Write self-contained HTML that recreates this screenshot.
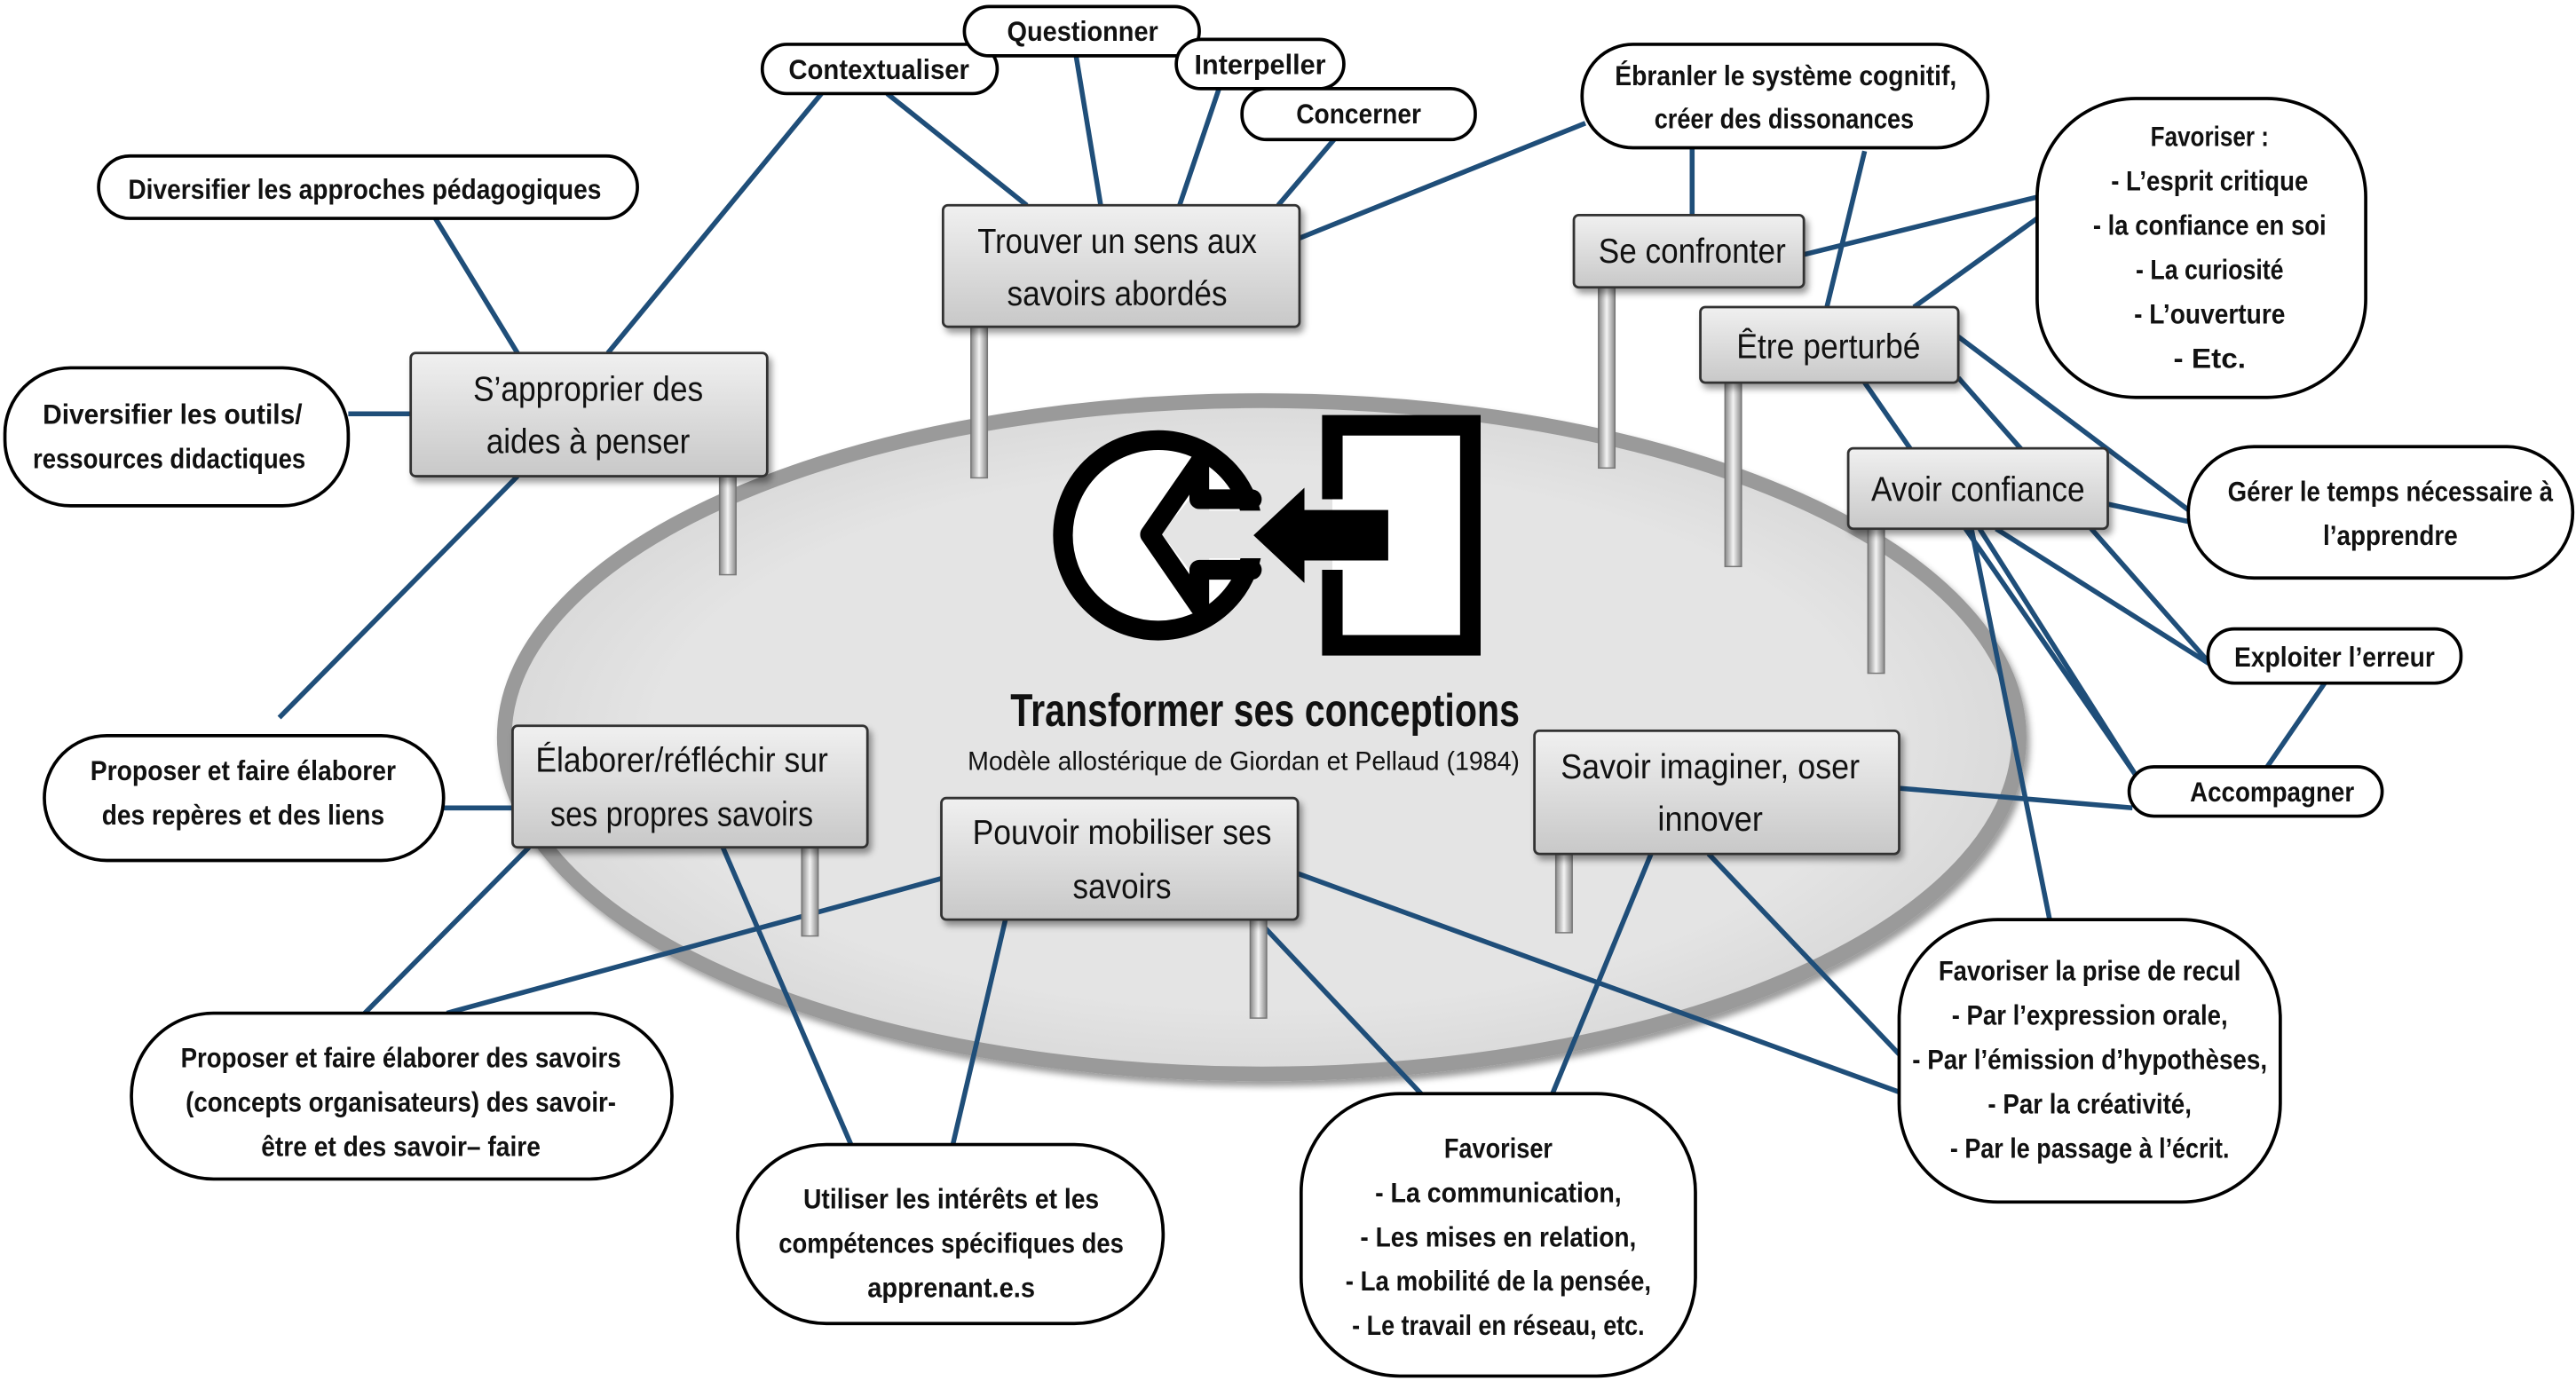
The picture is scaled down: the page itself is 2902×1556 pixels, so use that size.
<!DOCTYPE html>
<html><head><meta charset="utf-8"><style>
html,body{margin:0;padding:0;background:#fff;}
svg{display:block;}
text{font-family:"Liberation Sans",sans-serif;font-weight:bold;fill:#111;}
.t{font-size:17px;}
.b{font-size:21px;font-weight:normal;}
</style></head><body>
<svg width="2902" height="1556" viewBox="0 0 1568 841" preserveAspectRatio="none" xmlns="http://www.w3.org/2000/svg">
<defs>
<linearGradient id="g" x1="0" y1="0" x2="0" y2="1"><stop offset="0" stop-color="#f0f0f0"/><stop offset="1" stop-color="#c8c8c8"/></linearGradient>
<linearGradient id="p" x1="0" y1="0" x2="1" y2="0"><stop offset="0" stop-color="#888"/><stop offset="0.5" stop-color="#f4f4f4"/><stop offset="1" stop-color="#888"/></linearGradient>
<radialGradient id="e" cx="0.5" cy="0.5" r="0.5"><stop offset="0.8" stop-color="#e4e4e4"/><stop offset="1" stop-color="#dadada"/></radialGradient>
<filter id="s" x="-10%" y="-10%" width="130%" height="140%"><feDropShadow dx="2" dy="3" stdDeviation="2" flood-opacity="0.4"/></filter>
</defs>
<ellipse cx="768" cy="449" rx="461" ry="205" fill="url(#e)" stroke="#9a9a9a" stroke-width="9" filter="url(#s)"/>
<g stroke="#1f4e79" stroke-width="3" fill="none">
<line x1="500" y1="57" x2="370" y2="215"/>
<line x1="540" y1="57" x2="625" y2="125"/>
<line x1="655" y1="34" x2="670" y2="125"/>
<line x1="742" y1="54" x2="718" y2="125"/>
<line x1="812" y1="85" x2="778" y2="125"/>
<line x1="791" y1="145" x2="965" y2="75"/>
<line x1="265" y1="133" x2="315" y2="215"/>
<line x1="212" y1="252" x2="250" y2="252"/>
<line x1="315" y1="290" x2="170" y2="437"/>
<line x1="270" y1="492" x2="312" y2="492"/>
<line x1="322" y1="516" x2="222" y2="617"/>
<line x1="440" y1="516" x2="518" y2="697"/>
<line x1="573" y1="535" x2="272" y2="617"/>
<line x1="612" y1="560" x2="580" y2="697"/>
<line x1="770" y1="565" x2="865" y2="666"/>
<line x1="790" y1="532" x2="1156" y2="665"/>
<line x1="1005" y1="520" x2="945" y2="666"/>
<line x1="1040" y1="520" x2="1156" y2="642"/>
<line x1="1156" y1="480" x2="1298" y2="492"/>
<line x1="1030" y1="90" x2="1030" y2="131"/>
<line x1="1135" y1="92" x2="1112" y2="187"/>
<line x1="1098" y1="155" x2="1240" y2="120"/>
<line x1="1165" y1="187" x2="1240" y2="133"/>
<line x1="1192" y1="205" x2="1334" y2="312"/>
<line x1="1192" y1="230" x2="1346" y2="405"/>
<line x1="1135" y1="233" x2="1300" y2="472"/>
<line x1="1283" y1="307" x2="1334" y2="318"/>
<line x1="1215" y1="322" x2="1346" y2="405"/>
<line x1="1205" y1="322" x2="1300" y2="472"/>
<line x1="1200" y1="322" x2="1248" y2="562"/>
<line x1="1415" y1="416" x2="1380" y2="467"/>
</g>
<g fill="url(#p)" stroke="#777" stroke-width="0.8">
<rect x="591" y="199" width="10" height="92"/>
<rect x="438" y="290" width="10" height="60"/>
<rect x="973" y="175" width="10" height="110"/>
<rect x="1050" y="233" width="10" height="112"/>
<rect x="1137" y="322" width="10" height="88"/>
<rect x="488" y="516" width="10" height="54"/>
<rect x="761" y="560" width="10" height="60"/>
<rect x="947" y="520" width="10" height="48"/>
</g>
<!-- icon -->
<g>
<circle cx="705" cy="326" r="58" fill="#fff" stroke="#000" stroke-width="12"/>
<polygon points="707,325 724,304 736,304 736,311 780,311 780,340 736,340 736,347 724,347" fill="#e4e4e4"/>
<polyline points="730,282 700,325.5 730,369" fill="none" stroke="#000" stroke-width="12" stroke-linejoin="round" stroke-linecap="round"/>
<path d="M730 282 V304 H762 M730 369 V347 H762" fill="none" stroke="#000" stroke-width="12" stroke-linecap="round" stroke-linejoin="round"/>
<rect x="811" y="259" width="84" height="134" fill="#fff"/>
<polygon points="763,326 794,297 794,310.6 845,310.6 845,341.3 794,341.3 794,355" fill="#000"/>
<path d="M811 304 V259 H895 V393 H811 V347" fill="none" stroke="#000" stroke-width="12.5"/>
</g>
<text x="770" y="442" text-anchor="middle" font-size="28" textLength="310" lengthAdjust="spacingAndGlyphs">Transformer ses conceptions</text>
<text x="757" y="469" text-anchor="middle" font-size="16" style="font-weight:normal" textLength="336" lengthAdjust="spacingAndGlyphs">Modèle allostérique de Giordan et Pellaud (1984)</text>
<g fill="url(#g)" stroke="#333" stroke-width="1.5" filter="url(#s)">
<rect x="574" y="125" width="217" height="74" rx="3"/>
<rect x="250" y="215" width="217" height="75" rx="3"/>
<rect x="958" y="131" width="140" height="44" rx="3"/>
<rect x="1035" y="187" width="157" height="46" rx="3"/>
<rect x="1125" y="273" width="158" height="49" rx="3"/>
<rect x="312" y="442" width="216" height="74" rx="3"/>
<rect x="573" y="486" width="217" height="74" rx="3"/>
<rect x="934" y="445" width="222" height="75" rx="3"/>
</g>
<g class="b" text-anchor="middle">
<text class="b" x="680" y="154" textLength="170" lengthAdjust="spacingAndGlyphs">Trouver un sens aux</text>
<text class="b" x="680" y="186" textLength="134" lengthAdjust="spacingAndGlyphs">savoirs abordés</text>
<text class="b" x="358" y="244" textLength="140" lengthAdjust="spacingAndGlyphs">S’approprier des</text>
<text class="b" x="358" y="276" textLength="124" lengthAdjust="spacingAndGlyphs">aides à penser</text>
<text class="b" x="1030" y="160" textLength="114" lengthAdjust="spacingAndGlyphs">Se confronter</text>
<text class="b" x="1113" y="218" textLength="112" lengthAdjust="spacingAndGlyphs">Être perturbé</text>
<text class="b" x="1204" y="305" textLength="130" lengthAdjust="spacingAndGlyphs">Avoir confiance</text>
<text class="b" x="415" y="470" textLength="178" lengthAdjust="spacingAndGlyphs">Élaborer/réfléchir sur</text>
<text class="b" x="415" y="503" textLength="160" lengthAdjust="spacingAndGlyphs">ses propres savoirs</text>
<text class="b" x="683" y="514" textLength="182" lengthAdjust="spacingAndGlyphs">Pouvoir mobiliser ses</text>
<text class="b" x="683" y="547" textLength="60" lengthAdjust="spacingAndGlyphs">savoirs</text>
<text class="b" x="1041" y="474" textLength="182" lengthAdjust="spacingAndGlyphs">Savoir imaginer, oser</text>
<text class="b" x="1041" y="506" textLength="64" lengthAdjust="spacingAndGlyphs">innover</text>
</g>
<g fill="#fff" stroke="#000" stroke-width="2">
<rect x="464" y="27" width="143" height="30" rx="15"/>
<rect x="587" y="4" width="143" height="30" rx="15"/>
<rect x="716" y="24" width="102" height="30" rx="15"/>
<rect x="756" y="54" width="142" height="31" rx="15"/>
<rect x="60" y="95" width="328" height="38" rx="19"/>
<rect x="3" y="224" width="209" height="84" rx="40"/>
<rect x="27" y="448" width="243" height="76" rx="38"/>
<rect x="963" y="27" width="247" height="63" rx="31"/>
<rect x="1240" y="60" width="200" height="182" rx="60"/>
<rect x="1332" y="272" width="234" height="80" rx="40"/>
<rect x="1344" y="383" width="154" height="33" rx="16"/>
<rect x="1296" y="467" width="154" height="30" rx="15"/>
<rect x="1156" y="560" width="232" height="172" rx="60"/>
<rect x="792" y="666" width="240" height="172" rx="60"/>
<rect x="449" y="697" width="259" height="109" rx="54"/>
<rect x="80" y="617" width="329" height="101" rx="50"/>
</g>
<g text-anchor="middle" class="t">
<text class="t" x="535" y="48" textLength="110" lengthAdjust="spacingAndGlyphs">Contextualiser</text>
<text class="t" x="659" y="25" textLength="92" lengthAdjust="spacingAndGlyphs">Questionner</text>
<text class="t" x="767" y="45" textLength="80" lengthAdjust="spacingAndGlyphs">Interpeller</text>
<text class="t" x="827" y="75" textLength="76" lengthAdjust="spacingAndGlyphs">Concerner</text>
<text class="t" x="222" y="121" textLength="288" lengthAdjust="spacingAndGlyphs">Diversifier les approches pédagogiques</text>
<text class="t" x="105" y="258" textLength="158" lengthAdjust="spacingAndGlyphs">Diversifier les outils/</text>
<text class="t" x="103" y="285" textLength="166" lengthAdjust="spacingAndGlyphs">ressources didactiques</text>
<text class="t" x="148" y="475" textLength="186" lengthAdjust="spacingAndGlyphs">Proposer et faire élaborer</text>
<text class="t" x="148" y="502" textLength="172" lengthAdjust="spacingAndGlyphs">des repères et des liens</text>
<text class="t" x="1087" y="52" textLength="208" lengthAdjust="spacingAndGlyphs">Ébranler le système cognitif,</text>
<text class="t" x="1086" y="78" textLength="158" lengthAdjust="spacingAndGlyphs">créer des dissonances</text>
<text class="t" x="1345" y="89" textLength="72" lengthAdjust="spacingAndGlyphs">Favoriser :</text>
<text class="t" x="1345" y="116" textLength="120" lengthAdjust="spacingAndGlyphs">- L’esprit critique</text>
<text class="t" x="1345" y="143" textLength="142" lengthAdjust="spacingAndGlyphs">- la confiance en soi</text>
<text class="t" x="1345" y="170" textLength="90" lengthAdjust="spacingAndGlyphs">- La curiosité</text>
<text class="t" x="1345" y="197" textLength="92" lengthAdjust="spacingAndGlyphs">- L’ouverture</text>
<text class="t" x="1345" y="224" textLength="44" lengthAdjust="spacingAndGlyphs">- Etc.</text>
<text class="t" x="1455" y="305" textLength="198" lengthAdjust="spacingAndGlyphs">Gérer le temps nécessaire à</text>
<text class="t" x="1455" y="332" textLength="82" lengthAdjust="spacingAndGlyphs">l’apprendre</text>
<text class="t" x="1421" y="406" textLength="122" lengthAdjust="spacingAndGlyphs">Exploiter l’erreur</text>
<text class="t" x="1383" y="488" textLength="100" lengthAdjust="spacingAndGlyphs">Accompagner</text>
<text class="t" x="1272" y="597" textLength="184" lengthAdjust="spacingAndGlyphs">Favoriser la prise de recul</text>
<text class="t" x="1272" y="624" textLength="168" lengthAdjust="spacingAndGlyphs">- Par l’expression orale,</text>
<text class="t" x="1272" y="651" textLength="216" lengthAdjust="spacingAndGlyphs">- Par l’émission d’hypothèses,</text>
<text class="t" x="1272" y="678" textLength="124" lengthAdjust="spacingAndGlyphs">- Par la créativité,</text>
<text class="t" x="1272" y="705" textLength="170" lengthAdjust="spacingAndGlyphs">- Par le passage à l’écrit.</text>
<text class="t" x="912" y="705" textLength="66" lengthAdjust="spacingAndGlyphs">Favoriser</text>
<text class="t" x="912" y="732" textLength="150" lengthAdjust="spacingAndGlyphs">- La communication,</text>
<text class="t" x="912" y="759" textLength="168" lengthAdjust="spacingAndGlyphs">- Les mises en relation,</text>
<text class="t" x="912" y="786" textLength="186" lengthAdjust="spacingAndGlyphs">- La mobilité de la pensée,</text>
<text class="t" x="912" y="813" textLength="178" lengthAdjust="spacingAndGlyphs">- Le travail en réseau, etc.</text>
<text class="t" x="579" y="736" textLength="180" lengthAdjust="spacingAndGlyphs">Utiliser les intérêts et les</text>
<text class="t" x="579" y="763" textLength="210" lengthAdjust="spacingAndGlyphs">compétences spécifiques des</text>
<text class="t" x="579" y="790" textLength="102" lengthAdjust="spacingAndGlyphs">apprenant.e.s</text>
<text class="t" x="244" y="650" textLength="268" lengthAdjust="spacingAndGlyphs">Proposer et faire élaborer des savoirs</text>
<text class="t" x="244" y="677" textLength="262" lengthAdjust="spacingAndGlyphs">(concepts organisateurs) des savoir-</text>
<text class="t" x="244" y="704" textLength="170" lengthAdjust="spacingAndGlyphs">être et des savoir– faire</text>
</g>
</svg>
</body></html>
